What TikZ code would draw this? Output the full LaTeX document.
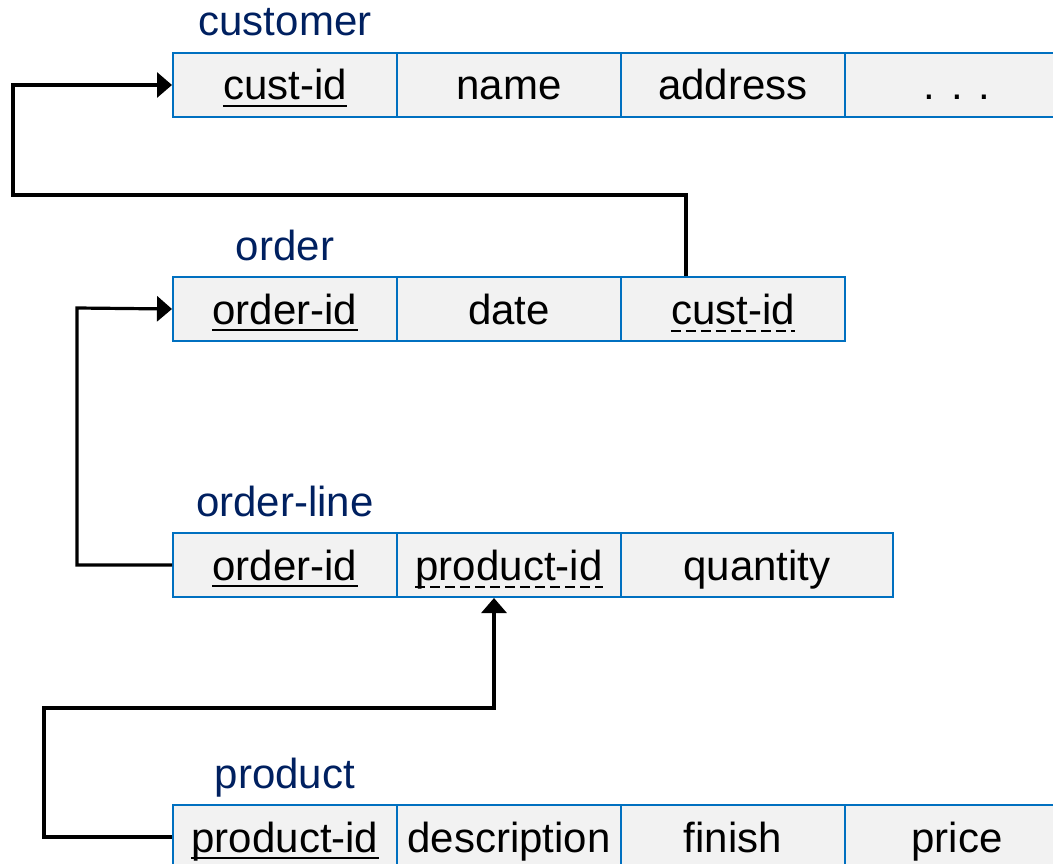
\documentclass[tikz,border=0pt]{standalone}
\usepackage{fontspec}
\setmainfont{Liberation Sans}
\usetikzlibrary{arrows.meta}
\definecolor{cellblue}{HTML}{0070C0}
\definecolor{cellfill}{HTML}{F2F2F2}
\definecolor{titleblue}{HTML}{002060}
\begin{document}
\begin{tikzpicture}[x=1pt,y=-1pt,
  cellbox/.style={draw=cellblue, fill=cellfill, line width=2pt,
    minimum height=64pt, inner sep=0pt, anchor=north west},
  txt/.style={inner sep=0pt, anchor=base, font=\fontsize{42}{48}\selectfont},
  tabletitle/.style={inner sep=0pt, anchor=base, text=titleblue,
    font=\fontsize{42}{48}\selectfont},
  pkline/.style={line width=2.5pt},
  fkline/.style={line width=2.5pt, dash pattern=on 10pt off 5pt},
  conn/.style={line width=3.2pt, line join=miter},
  tip/.style={-{Triangle[length=15pt,width=25pt]}}
]
\path[use as bounding box] (0,0) rectangle (1053,864);
\clip (0,0) rectangle (1053,864);

% customer
\node[cellbox, minimum width=224pt] (c1) at (172,52) {};
\node[cellbox, minimum width=224pt] (c2) at (396,52) {};
\node[cellbox, minimum width=224pt] (c3) at (620,52) {};
\node[cellbox, minimum width=224pt] (c4) at (844,52) {};
\node[tabletitle] (ct) at ([yshift=16pt]c1.north) {customer};
\node[txt] (c1t) at ([yshift=-15pt]c1.center) {cust-id};
\node[txt] (c2t) at ([yshift=-15pt]c2.center) {name};
\node[txt] (c3t) at ([yshift=-15pt]c3.center) {address};
\node[txt] (c4t) at ([yshift=-15pt]c4.center) {. . .};
\draw[pkline] ([yshift=-6pt]c1t.base west) -- ([yshift=-6pt]c1t.base east);

% order
\node[cellbox, minimum width=224pt] (o1) at (172,276) {};
\node[cellbox, minimum width=224pt] (o2) at (396,276) {};
\node[cellbox, minimum width=224pt] (o3) at (620,276) {};
\node[tabletitle] (ot) at ([yshift=16pt]o1.north) {order};
\node[txt] (o1t) at ([yshift=-15pt]o1.center) {order-id};
\node[txt] (o2t) at ([yshift=-15pt]o2.center) {date};
\node[txt] (o3t) at ([yshift=-15pt]o3.center) {cust-id};
\draw[pkline] ([yshift=-6pt]o1t.base west) -- ([yshift=-6pt]o1t.base east);
\draw[fkline] ([yshift=-7pt]o3t.base west) -- ([yshift=-7pt]o3t.base east);

% order-line
\node[cellbox, minimum width=224pt] (l1) at (172,532) {};
\node[cellbox, minimum width=224pt] (l2) at (396,532) {};
\node[cellbox, minimum width=272pt] (l3) at (620,532) {};
\node[tabletitle] (lt) at ([yshift=16pt]l1.north) {order-line};
\node[txt] (l1t) at ([yshift=-15pt]l1.center) {order-id};
\node[txt] (l2t) at ([yshift=-15pt]l2.center) {product-id};
\node[txt] (l3t) at ([yshift=-15pt]l3.center) {quantity};
\draw[pkline] ([yshift=-6pt]l1t.base west) -- ([yshift=-6pt]l1t.base east);
\draw[fkline] ([yshift=-7pt]l2t.base west) -- ([yshift=-7pt]l2t.base east);

% product
\node[cellbox, minimum width=224pt] (p1) at (172,804) {};
\node[cellbox, minimum width=224pt] (p2) at (396,804) {};
\node[cellbox, minimum width=224pt] (p3) at (620,804) {};
\node[cellbox, minimum width=224pt] (p4) at (844,804) {};
\node[tabletitle] (pt) at ([yshift=16pt]p1.north) {product};
\node[txt] (p1t) at ([yshift=-15pt]p1.center) {product-id};
\node[txt] (p2t) at ([yshift=-15pt]p2.center) {description};
\node[txt] (p3t) at ([yshift=-15pt]p3.center) {finish};
\node[txt] (p4t) at ([yshift=-15pt]p4.center) {price};
\draw[pkline] ([yshift=-6pt]p1t.base west) -- ([yshift=-6pt]p1t.base east);

% foreign key references
\coordinate (b1) at (13,195);
\coordinate (b2) at (77,308);
\coordinate (b3) at (44,708);
\draw[conn, tip] ([xshift=-47pt]o3.north) |- (b1) |- (c1.west);
\draw[conn, tip] (l1.west) -| (b2) -- (o1.west);
\draw[conn, tip] (p1.west) -| (b3) -| ([xshift=-15pt]l2.south);
\end{tikzpicture}
\end{document}
